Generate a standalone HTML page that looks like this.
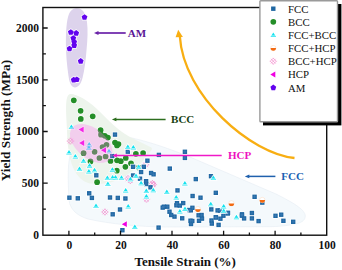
<!DOCTYPE html>
<html><head><meta charset="utf-8"><style>
html,body{margin:0;padding:0;background:#fff;width:342px;height:270px;overflow:hidden}
svg{display:block}
text{font-family:"Liberation Serif",serif}
</style></head><body>
<svg width="342" height="270" viewBox="0 0 342 270">
<rect width="342" height="270" fill="#fff"/>

<path d="M69,200 C68,180 67,160 72,150 C80,138 110,133 132,138 C150,142 170,149 190,157 L276,194 C292,202 304,209 305.2,215 C306,221 300,223.2 294,224.3 C285,226 278,226.6 270,226.7 L165,227 C140,226.8 110,224 88,219 C78,216 70,210 69,200Z" fill="#f4f9fc" stroke="#e6edf3" stroke-width="0.6"/>
<path d="M70.5,94 C64,94 66.5,115 67,130 C67.5,150 70,168 80,178 C88,186 100,185 112,182 C125,178 138,168 145,158 C149,152.5 154,149.5 151,147.3 C146,144.5 135,140 127.5,135.5 C120,131 112,124 102.6,114.4 C96,108 90,102.5 84,99 C78,95.5 74,94 70.5,94Z" fill="#edf4ec"/>
<path d="M77,8.3 C83,8.3 86,14 87,22 C88,30 87.5,40 86.7,48 C85.8,60 84.5,70 82.5,78 C81,84 78,87.5 75,87.5 C72,87.5 69.5,84 68.5,76 C67,66 66,55 65.9,45 C65.8,32 66.5,20 69,14 C71,9.5 74,8.3 77,8.3Z" fill="#ddd3ec"/>
<g fill="#fff" stroke="#fff" stroke-width="1.6" stroke-opacity="0.85"><circle cx="73.8" cy="100.3" r="2.85"/><circle cx="80.6" cy="110.8" r="2.85"/><circle cx="92.7" cy="116.3" r="2.85"/><circle cx="80.8" cy="118.9" r="2.85"/><circle cx="100.6" cy="130.2" r="2.85"/><circle cx="101.0" cy="134.7" r="2.85"/><circle cx="104.8" cy="135.8" r="2.85"/><circle cx="107.9" cy="137.6" r="2.85"/><circle cx="115.0" cy="142.5" r="2.85"/><circle cx="118.5" cy="144.0" r="2.85"/><circle cx="117.0" cy="145.5" r="2.85"/><circle cx="102.5" cy="147.0" r="2.85"/><circle cx="106.5" cy="144.8" r="2.85"/><circle cx="94.6" cy="151.8" r="2.85"/><circle cx="83.6" cy="153.2" r="2.85"/><circle cx="99.4" cy="158.0" r="2.85"/><circle cx="105.6" cy="156.5" r="2.85"/><circle cx="110.5" cy="161.0" r="2.85"/><circle cx="117.0" cy="160.3" r="2.85"/><circle cx="120.8" cy="161.2" r="2.85"/><circle cx="125.8" cy="158.0" r="2.85"/><circle cx="131.0" cy="163.3" r="2.85"/><circle cx="125.4" cy="166.8" r="2.85"/><circle cx="135.9" cy="153.8" r="2.85"/><circle cx="143.1" cy="153.0" r="2.85"/><circle cx="116.8" cy="170.7" r="2.85"/><circle cx="97.1" cy="182.2" r="2.85"/><circle cx="90.5" cy="161.4" r="2.85"/><circle cx="138.7" cy="167.6" r="2.85"/></g><g fill="#248e28" ><circle cx="73.8" cy="100.3" r="2.85"/><circle cx="80.6" cy="110.8" r="2.85"/><circle cx="92.7" cy="116.3" r="2.85"/><circle cx="80.8" cy="118.9" r="2.85"/><circle cx="100.6" cy="130.2" r="2.85"/><circle cx="101.0" cy="134.7" r="2.85"/><circle cx="104.8" cy="135.8" r="2.85"/><circle cx="107.9" cy="137.6" r="2.85"/><circle cx="115.0" cy="142.5" r="2.85"/><circle cx="118.5" cy="144.0" r="2.85"/><circle cx="117.0" cy="145.5" r="2.85"/><circle cx="102.5" cy="147.0" r="2.85"/><circle cx="106.5" cy="144.8" r="2.85"/><circle cx="94.6" cy="151.8" r="2.85"/><circle cx="83.6" cy="153.2" r="2.85"/><circle cx="99.4" cy="158.0" r="2.85"/><circle cx="105.6" cy="156.5" r="2.85"/><circle cx="110.5" cy="161.0" r="2.85"/><circle cx="117.0" cy="160.3" r="2.85"/><circle cx="120.8" cy="161.2" r="2.85"/><circle cx="125.8" cy="158.0" r="2.85"/><circle cx="131.0" cy="163.3" r="2.85"/><circle cx="125.4" cy="166.8" r="2.85"/><circle cx="135.9" cy="153.8" r="2.85"/><circle cx="143.1" cy="153.0" r="2.85"/><circle cx="116.8" cy="170.7" r="2.85"/><circle cx="97.1" cy="182.2" r="2.85"/><circle cx="90.5" cy="161.4" r="2.85"/><circle cx="138.7" cy="167.6" r="2.85"/></g>
<g stroke="#f27cc6" stroke-width="0.6" fill="none"><path d="M67.11,140.81L70.69,144.39M67.11,141.39L70.69,137.81M68.07,138.77L72.73,143.43M68.07,143.43L72.73,138.77M70.11,137.81L73.69,141.39M70.11,144.39L73.69,140.81"/><path d="M101.61,211.71L105.19,215.29M101.61,212.29L105.19,208.71M102.57,209.67L107.23,214.33M102.57,214.33L107.23,209.67M104.61,208.71L108.19,212.29M104.61,215.29L108.19,211.71"/><path d="M124.71,178.31L128.29,181.89M124.71,178.89L128.29,175.31M125.67,176.27L130.33,180.93M125.67,180.93L130.33,176.27M127.71,175.31L131.29,178.89M127.71,181.89L131.29,178.31"/><path d="M127.01,180.31L130.59,183.89M127.01,180.89L130.59,177.31M127.97,178.27L132.63,182.93M127.97,182.93L132.63,178.27M130.01,177.31L133.59,180.89M130.01,183.89L133.59,180.31"/><path d="M142.31,164.51L145.89,168.09M142.31,165.09L145.89,161.51M143.27,162.47L147.93,167.13M143.27,167.13L147.93,162.47M145.31,161.51L148.89,165.09M145.31,168.09L148.89,164.51"/><path d="M150.01,184.51L153.59,188.09M150.01,185.09L153.59,181.51M150.97,182.47L155.63,187.13M150.97,187.13L155.63,182.47M153.01,181.51L156.59,185.09M153.01,188.09L156.59,184.51"/><path d="M143.21,198.91L146.79,202.49M143.21,199.49L146.79,195.91M144.17,196.87L148.83,201.53M144.17,201.53L148.83,196.87M146.21,195.91L149.79,199.49M146.21,202.49L149.79,198.91"/><path d="M149.11,183.21L152.69,186.79M149.11,183.79L152.69,180.21M150.07,181.17L154.73,185.83M150.07,185.83L154.73,181.17M152.11,180.21L155.69,183.79M152.11,186.79L155.69,183.21"/></g>
<g fill="#fff" stroke="#fff" stroke-width="1.6" stroke-opacity="0.85"><rect x="112.8" y="132.4" width="4.4" height="4.4"/><rect x="110.0" y="153.8" width="4.4" height="4.4"/><rect x="125.6" y="149.5" width="4.4" height="4.4"/><rect x="156.7" y="152.7" width="4.4" height="4.4"/><rect x="182.7" y="149.6" width="4.4" height="4.4"/><rect x="182.7" y="155.7" width="4.4" height="4.4"/><rect x="145.2" y="158.5" width="4.4" height="4.4"/><rect x="167.6" y="166.4" width="4.4" height="4.4"/><rect x="141.6" y="164.6" width="4.4" height="4.4"/><rect x="130.9" y="164.6" width="4.4" height="4.4"/><rect x="138.9" y="169.8" width="4.4" height="4.4"/><rect x="130.9" y="173.3" width="4.4" height="4.4"/><rect x="137.8" y="176.5" width="4.4" height="4.4"/><rect x="148.9" y="170.8" width="4.4" height="4.4"/><rect x="151.4" y="172.1" width="4.4" height="4.4"/><rect x="143.9" y="179.0" width="4.4" height="4.4"/><rect x="143.9" y="181.8" width="4.4" height="4.4"/><rect x="148.3" y="185.1" width="4.4" height="4.4"/><rect x="94.1" y="173.1" width="4.4" height="4.4"/><rect x="87.0" y="191.1" width="4.4" height="4.4"/><rect x="89.7" y="195.7" width="4.4" height="4.4"/><rect x="67.2" y="195.5" width="4.4" height="4.4"/><rect x="75.6" y="196.1" width="4.4" height="4.4"/><rect x="107.8" y="195.3" width="4.4" height="4.4"/><rect x="115.6" y="195.7" width="4.4" height="4.4"/><rect x="117.8" y="207.3" width="4.4" height="4.4"/><rect x="110.5" y="212.1" width="4.4" height="4.4"/><rect x="120.2" y="228.0" width="4.4" height="4.4"/><rect x="123.2" y="196.3" width="4.4" height="4.4"/><rect x="160.5" y="205.4" width="4.4" height="4.4"/><rect x="156.4" y="225.4" width="4.4" height="4.4"/><rect x="193.6" y="176.9" width="4.4" height="4.4"/><rect x="175.3" y="188.2" width="4.4" height="4.4"/><rect x="190.4" y="193.8" width="4.4" height="4.4"/><rect x="198.3" y="195.5" width="4.4" height="4.4"/><rect x="174.2" y="203.1" width="4.4" height="4.4"/><rect x="177.6" y="203.4" width="4.4" height="4.4"/><rect x="181.0" y="200.9" width="4.4" height="4.4"/><rect x="174.8" y="201.0" width="4.4" height="4.4"/><rect x="161.7" y="204.5" width="4.4" height="4.4"/><rect x="165.1" y="204.5" width="4.4" height="4.4"/><rect x="167.3" y="209.5" width="4.4" height="4.4"/><rect x="169.0" y="212.8" width="4.4" height="4.4"/><rect x="172.3" y="214.4" width="4.4" height="4.4"/><rect x="180.0" y="216.1" width="4.4" height="4.4"/><rect x="186.9" y="207.8" width="4.4" height="4.4"/><rect x="190.2" y="205.6" width="4.4" height="4.4"/><rect x="188.6" y="208.1" width="4.4" height="4.4"/><rect x="188.3" y="218.5" width="4.4" height="4.4"/><rect x="190.1" y="218.8" width="4.4" height="4.4"/><rect x="188.8" y="221.8" width="4.4" height="4.4"/><rect x="196.4" y="213.1" width="4.4" height="4.4"/><rect x="199.4" y="212.8" width="4.4" height="4.4"/><rect x="196.8" y="218.6" width="4.4" height="4.4"/><rect x="199.8" y="216.4" width="4.4" height="4.4"/><rect x="213.6" y="190.6" width="4.4" height="4.4"/><rect x="208.8" y="174.0" width="4.4" height="4.4"/><rect x="209.1" y="207.2" width="4.4" height="4.4"/><rect x="217.8" y="208.4" width="4.4" height="4.4"/><rect x="213.6" y="215.1" width="4.4" height="4.4"/><rect x="215.4" y="208.2" width="4.4" height="4.4"/><rect x="225.6" y="211.3" width="4.4" height="4.4"/><rect x="221.2" y="213.5" width="4.4" height="4.4"/><rect x="213.8" y="215.2" width="4.4" height="4.4"/><rect x="218.2" y="216.5" width="4.4" height="4.4"/><rect x="209.3" y="218.3" width="4.4" height="4.4"/><rect x="209.6" y="221.4" width="4.4" height="4.4"/><rect x="216.4" y="222.7" width="4.4" height="4.4"/><rect x="239.7" y="213.5" width="4.4" height="4.4"/><rect x="241.9" y="216.2" width="4.4" height="4.4"/><rect x="252.4" y="194.6" width="4.4" height="4.4"/><rect x="260.1" y="200.4" width="4.4" height="4.4"/><rect x="249.7" y="210.8" width="4.4" height="4.4"/><rect x="249.7" y="216.2" width="4.4" height="4.4"/><rect x="256.4" y="218.9" width="4.4" height="4.4"/><rect x="273.3" y="213.6" width="4.4" height="4.4"/><rect x="279.0" y="212.5" width="4.4" height="4.4"/><rect x="281.2" y="218.6" width="4.4" height="4.4"/><rect x="291.0" y="219.6" width="4.4" height="4.4"/><rect x="225.8" y="210.6" width="4.4" height="4.4"/><rect x="239.8" y="212.1" width="4.4" height="4.4"/></g><g fill="#1f67a2" ><rect x="112.8" y="132.4" width="4.4" height="4.4"/><rect x="110.0" y="153.8" width="4.4" height="4.4"/><rect x="125.6" y="149.5" width="4.4" height="4.4"/><rect x="156.7" y="152.7" width="4.4" height="4.4"/><rect x="182.7" y="149.6" width="4.4" height="4.4"/><rect x="182.7" y="155.7" width="4.4" height="4.4"/><rect x="145.2" y="158.5" width="4.4" height="4.4"/><rect x="167.6" y="166.4" width="4.4" height="4.4"/><rect x="141.6" y="164.6" width="4.4" height="4.4"/><rect x="130.9" y="164.6" width="4.4" height="4.4"/><rect x="138.9" y="169.8" width="4.4" height="4.4"/><rect x="130.9" y="173.3" width="4.4" height="4.4"/><rect x="137.8" y="176.5" width="4.4" height="4.4"/><rect x="148.9" y="170.8" width="4.4" height="4.4"/><rect x="151.4" y="172.1" width="4.4" height="4.4"/><rect x="143.9" y="179.0" width="4.4" height="4.4"/><rect x="143.9" y="181.8" width="4.4" height="4.4"/><rect x="148.3" y="185.1" width="4.4" height="4.4"/><rect x="94.1" y="173.1" width="4.4" height="4.4"/><rect x="87.0" y="191.1" width="4.4" height="4.4"/><rect x="89.7" y="195.7" width="4.4" height="4.4"/><rect x="67.2" y="195.5" width="4.4" height="4.4"/><rect x="75.6" y="196.1" width="4.4" height="4.4"/><rect x="107.8" y="195.3" width="4.4" height="4.4"/><rect x="115.6" y="195.7" width="4.4" height="4.4"/><rect x="117.8" y="207.3" width="4.4" height="4.4"/><rect x="110.5" y="212.1" width="4.4" height="4.4"/><rect x="120.2" y="228.0" width="4.4" height="4.4"/><rect x="123.2" y="196.3" width="4.4" height="4.4"/><rect x="160.5" y="205.4" width="4.4" height="4.4"/><rect x="156.4" y="225.4" width="4.4" height="4.4"/><rect x="193.6" y="176.9" width="4.4" height="4.4"/><rect x="175.3" y="188.2" width="4.4" height="4.4"/><rect x="190.4" y="193.8" width="4.4" height="4.4"/><rect x="198.3" y="195.5" width="4.4" height="4.4"/><rect x="174.2" y="203.1" width="4.4" height="4.4"/><rect x="177.6" y="203.4" width="4.4" height="4.4"/><rect x="181.0" y="200.9" width="4.4" height="4.4"/><rect x="174.8" y="201.0" width="4.4" height="4.4"/><rect x="161.7" y="204.5" width="4.4" height="4.4"/><rect x="165.1" y="204.5" width="4.4" height="4.4"/><rect x="167.3" y="209.5" width="4.4" height="4.4"/><rect x="169.0" y="212.8" width="4.4" height="4.4"/><rect x="172.3" y="214.4" width="4.4" height="4.4"/><rect x="180.0" y="216.1" width="4.4" height="4.4"/><rect x="186.9" y="207.8" width="4.4" height="4.4"/><rect x="190.2" y="205.6" width="4.4" height="4.4"/><rect x="188.6" y="208.1" width="4.4" height="4.4"/><rect x="188.3" y="218.5" width="4.4" height="4.4"/><rect x="190.1" y="218.8" width="4.4" height="4.4"/><rect x="188.8" y="221.8" width="4.4" height="4.4"/><rect x="196.4" y="213.1" width="4.4" height="4.4"/><rect x="199.4" y="212.8" width="4.4" height="4.4"/><rect x="196.8" y="218.6" width="4.4" height="4.4"/><rect x="199.8" y="216.4" width="4.4" height="4.4"/><rect x="213.6" y="190.6" width="4.4" height="4.4"/><rect x="208.8" y="174.0" width="4.4" height="4.4"/><rect x="209.1" y="207.2" width="4.4" height="4.4"/><rect x="217.8" y="208.4" width="4.4" height="4.4"/><rect x="213.6" y="215.1" width="4.4" height="4.4"/><rect x="215.4" y="208.2" width="4.4" height="4.4"/><rect x="225.6" y="211.3" width="4.4" height="4.4"/><rect x="221.2" y="213.5" width="4.4" height="4.4"/><rect x="213.8" y="215.2" width="4.4" height="4.4"/><rect x="218.2" y="216.5" width="4.4" height="4.4"/><rect x="209.3" y="218.3" width="4.4" height="4.4"/><rect x="209.6" y="221.4" width="4.4" height="4.4"/><rect x="216.4" y="222.7" width="4.4" height="4.4"/><rect x="239.7" y="213.5" width="4.4" height="4.4"/><rect x="241.9" y="216.2" width="4.4" height="4.4"/><rect x="252.4" y="194.6" width="4.4" height="4.4"/><rect x="260.1" y="200.4" width="4.4" height="4.4"/><rect x="249.7" y="210.8" width="4.4" height="4.4"/><rect x="249.7" y="216.2" width="4.4" height="4.4"/><rect x="256.4" y="218.9" width="4.4" height="4.4"/><rect x="273.3" y="213.6" width="4.4" height="4.4"/><rect x="279.0" y="212.5" width="4.4" height="4.4"/><rect x="281.2" y="218.6" width="4.4" height="4.4"/><rect x="291.0" y="219.6" width="4.4" height="4.4"/><rect x="225.8" y="210.6" width="4.4" height="4.4"/><rect x="239.8" y="212.1" width="4.4" height="4.4"/></g>
<path d="M113.3,134.6H116.7M115.0,132.9V136.3M110.5,156.0H113.9M112.2,154.3V157.7M126.1,151.7H129.5M127.8,150.0V153.4M157.2,154.9H160.6M158.9,153.2V156.6M183.2,151.8H186.6M184.9,150.1V153.5M183.2,157.9H186.6M184.9,156.2V159.6M145.7,160.7H149.1M147.4,159.0V162.4M168.1,168.6H171.5M169.8,166.9V170.3M142.1,166.8H145.5M143.8,165.1V168.5M131.4,166.8H134.8M133.1,165.1V168.5M139.4,172.0H142.8M141.1,170.3V173.7M131.4,175.5H134.8M133.1,173.8V177.2M138.3,178.7H141.7M140.0,177.0V180.4M149.4,173.0H152.8M151.1,171.3V174.7M151.9,174.3H155.3M153.6,172.6V176.0M144.4,181.2H147.8M146.1,179.5V182.9M144.4,184.0H147.8M146.1,182.3V185.7M148.8,187.3H152.2M150.5,185.6V189.0M94.6,175.3H98.0M96.3,173.6V177.0M87.5,193.3H90.9M89.2,191.6V195.0M90.2,197.9H93.6M91.9,196.2V199.6M67.7,197.7H71.1M69.4,196.0V199.4M76.1,198.3H79.5M77.8,196.6V200.0M108.3,197.5H111.7M110.0,195.8V199.2M116.1,197.9H119.5M117.8,196.2V199.6M118.3,209.5H121.7M120.0,207.8V211.2M111.0,214.3H114.4M112.7,212.6V216.0M120.7,230.2H124.1M122.4,228.5V231.9M123.7,198.5H127.1M125.4,196.8V200.2M161.0,207.6H164.4M162.7,205.9V209.3M156.9,227.6H160.3M158.6,225.9V229.3M194.1,179.1H197.5M195.8,177.4V180.8M175.8,190.4H179.2M177.5,188.7V192.1M190.9,196.0H194.3M192.6,194.3V197.7M198.8,197.7H202.2M200.5,196.0V199.4M174.7,205.3H178.1M176.4,203.6V207.0M178.1,205.6H181.5M179.8,203.9V207.3M181.5,203.1H184.9M183.2,201.4V204.8M175.3,203.2H178.7M177.0,201.5V204.9M162.2,206.7H165.6M163.9,205.0V208.4M165.6,206.7H169.0M167.3,205.0V208.4M167.8,211.7H171.2M169.5,210.0V213.4M169.5,215.0H172.9M171.2,213.3V216.7M172.8,216.6H176.2M174.5,214.9V218.3M180.5,218.3H183.9M182.2,216.6V220.0M187.4,210.0H190.8M189.1,208.3V211.7M190.7,207.8H194.1M192.4,206.1V209.5M189.1,210.3H192.5M190.8,208.6V212.0M188.8,220.7H192.2M190.5,219.0V222.4M190.6,221.0H194.0M192.3,219.3V222.7M189.3,224.0H192.7M191.0,222.3V225.7M196.9,215.3H200.3M198.6,213.6V217.0M199.9,215.0H203.3M201.6,213.3V216.7M197.3,220.8H200.7M199.0,219.1V222.5M200.3,218.6H203.7M202.0,216.9V220.3M214.1,192.8H217.5M215.8,191.1V194.5M209.3,176.2H212.7M211.0,174.5V177.9M209.6,209.4H213.0M211.3,207.7V211.1M218.3,210.6H221.7M220.0,208.9V212.3M214.1,217.3H217.5M215.8,215.6V219.0M215.9,210.4H219.3M217.6,208.7V212.1M226.1,213.5H229.5M227.8,211.8V215.2M221.7,215.7H225.1M223.4,214.0V217.4M214.3,217.4H217.7M216.0,215.7V219.1M218.7,218.7H222.1M220.4,217.0V220.4M209.8,220.5H213.2M211.5,218.8V222.2M210.1,223.6H213.5M211.8,221.9V225.3M216.9,224.9H220.3M218.6,223.2V226.6M240.2,215.7H243.6M241.9,214.0V217.4M242.4,218.4H245.8M244.1,216.7V220.1M252.9,196.8H256.3M254.6,195.1V198.5M260.6,202.6H264.0M262.3,200.9V204.3M250.2,213.0H253.6M251.9,211.3V214.7M250.2,218.4H253.6M251.9,216.7V220.1M256.9,221.1H260.3M258.6,219.4V222.8M273.8,215.8H277.2M275.5,214.1V217.5M279.5,214.7H282.9M281.2,213.0V216.4M281.7,220.8H285.1M283.4,219.1V222.5M291.5,221.8H294.9M293.2,220.1V223.5M226.3,212.8H229.7M228.0,211.1V214.5M240.3,214.3H243.7M242.0,212.6V216.0" stroke="#5d95c9" stroke-width="0.55" stroke-opacity="0.55"/>
<g fill="#fff" stroke="#fff" stroke-width="1.6" stroke-opacity="0.85"><path d="M71.4,124.50L74.20,129.00L68.60,129.00Z"/><path d="M89.2,142.00L92.00,146.50L86.40,146.50Z"/><path d="M88.9,145.30L91.70,149.80L86.10,149.80Z"/><path d="M69.0,150.10L71.80,154.60L66.20,154.60Z"/><path d="M75.3,154.00L78.10,158.50L72.50,158.50Z"/><path d="M79.5,166.60L82.30,171.10L76.70,171.10Z"/><path d="M83.5,158.50L86.30,163.00L80.70,163.00Z"/><path d="M89.6,163.30L92.40,167.80L86.80,167.80Z"/><path d="M88.9,169.10L91.70,173.60L86.10,173.60Z"/><path d="M94.5,167.80L97.30,172.30L91.70,172.30Z"/><path d="M109.0,148.80L111.80,153.30L106.20,153.30Z"/><path d="M112.4,167.20L115.20,171.70L109.60,171.70Z"/><path d="M107.4,175.60L110.20,180.10L104.60,180.10Z"/><path d="M112.6,175.10L115.40,179.60L109.80,179.60Z"/><path d="M115.5,175.10L118.30,179.60L112.70,179.60Z"/><path d="M121.5,175.30L124.30,179.80L118.70,179.80Z"/><path d="M107.9,181.50L110.70,186.00L105.10,186.00Z"/><path d="M96.0,203.60L98.80,208.10L93.20,208.10Z"/><path d="M127.8,144.50L130.60,149.00L125.00,149.00Z"/><path d="M133.3,145.10L136.10,149.60L130.50,149.60Z"/><path d="M138.7,164.50L141.50,169.00L135.90,169.00Z"/><path d="M136.0,173.50L138.80,178.00L133.20,178.00Z"/><path d="M130.4,176.80L133.20,181.30L127.60,181.30Z"/><path d="M141.1,180.80L143.90,185.30L138.30,185.30Z"/><path d="M146.3,188.60L149.10,193.10L143.50,193.10Z"/><path d="M153.3,187.80L156.10,192.30L150.50,192.30Z"/><path d="M146.4,194.10L149.20,198.60L143.60,198.60Z"/><path d="M125.7,187.90L128.50,192.40L122.90,192.40Z"/><path d="M128.2,204.10L131.00,208.60L125.40,208.60Z"/><path d="M134.8,224.50L137.60,229.00L132.00,229.00Z"/><path d="M166.8,189.50L169.60,194.00L164.00,194.00Z"/><path d="M184.9,181.10L187.70,185.60L182.10,185.60Z"/><path d="M176.2,195.10L179.00,199.60L173.40,199.60Z"/><path d="M179.9,208.90L182.70,213.40L177.10,213.40Z"/><path d="M185.0,206.40L187.80,210.90L182.20,210.90Z"/><path d="M213.4,175.50L216.20,180.00L210.60,180.00Z"/><path d="M210.8,201.80L213.60,206.30L208.00,206.30Z"/><path d="M223.7,204.10L226.50,208.60L220.90,208.60Z"/><path d="M223.7,208.50L226.50,213.00L220.90,213.00Z"/><path d="M236.4,214.70L239.20,219.20L233.60,219.20Z"/></g><g fill="#12e2ef" ><path d="M71.4,124.50L74.20,129.00L68.60,129.00Z"/><path d="M89.2,142.00L92.00,146.50L86.40,146.50Z"/><path d="M88.9,145.30L91.70,149.80L86.10,149.80Z"/><path d="M69.0,150.10L71.80,154.60L66.20,154.60Z"/><path d="M75.3,154.00L78.10,158.50L72.50,158.50Z"/><path d="M79.5,166.60L82.30,171.10L76.70,171.10Z"/><path d="M83.5,158.50L86.30,163.00L80.70,163.00Z"/><path d="M89.6,163.30L92.40,167.80L86.80,167.80Z"/><path d="M88.9,169.10L91.70,173.60L86.10,173.60Z"/><path d="M94.5,167.80L97.30,172.30L91.70,172.30Z"/><path d="M109.0,148.80L111.80,153.30L106.20,153.30Z"/><path d="M112.4,167.20L115.20,171.70L109.60,171.70Z"/><path d="M107.4,175.60L110.20,180.10L104.60,180.10Z"/><path d="M112.6,175.10L115.40,179.60L109.80,179.60Z"/><path d="M115.5,175.10L118.30,179.60L112.70,179.60Z"/><path d="M121.5,175.30L124.30,179.80L118.70,179.80Z"/><path d="M107.9,181.50L110.70,186.00L105.10,186.00Z"/><path d="M96.0,203.60L98.80,208.10L93.20,208.10Z"/><path d="M127.8,144.50L130.60,149.00L125.00,149.00Z"/><path d="M133.3,145.10L136.10,149.60L130.50,149.60Z"/><path d="M138.7,164.50L141.50,169.00L135.90,169.00Z"/><path d="M136.0,173.50L138.80,178.00L133.20,178.00Z"/><path d="M130.4,176.80L133.20,181.30L127.60,181.30Z"/><path d="M141.1,180.80L143.90,185.30L138.30,185.30Z"/><path d="M146.3,188.60L149.10,193.10L143.50,193.10Z"/><path d="M153.3,187.80L156.10,192.30L150.50,192.30Z"/><path d="M146.4,194.10L149.20,198.60L143.60,198.60Z"/><path d="M125.7,187.90L128.50,192.40L122.90,192.40Z"/><path d="M128.2,204.10L131.00,208.60L125.40,208.60Z"/><path d="M134.8,224.50L137.60,229.00L132.00,229.00Z"/><path d="M166.8,189.50L169.60,194.00L164.00,194.00Z"/><path d="M184.9,181.10L187.70,185.60L182.10,185.60Z"/><path d="M176.2,195.10L179.00,199.60L173.40,199.60Z"/><path d="M179.9,208.90L182.70,213.40L177.10,213.40Z"/><path d="M185.0,206.40L187.80,210.90L182.20,210.90Z"/><path d="M213.4,175.50L216.20,180.00L210.60,180.00Z"/><path d="M210.8,201.80L213.60,206.30L208.00,206.30Z"/><path d="M223.7,204.10L226.50,208.60L220.90,208.60Z"/><path d="M223.7,208.50L226.50,213.00L220.90,213.00Z"/><path d="M236.4,214.70L239.20,219.20L233.60,219.20Z"/></g>
<g stroke="#fff" stroke-width="0.75" stroke-opacity="0.9"><path d="M69.20,128.05H73.60"/><path d="M87.00,145.55H91.40"/><path d="M86.70,148.85H91.10"/><path d="M66.80,153.65H71.20"/><path d="M73.10,157.55H77.50"/><path d="M77.30,170.15H81.70"/><path d="M81.30,162.05H85.70"/><path d="M87.40,166.85H91.80"/><path d="M86.70,172.65H91.10"/><path d="M92.30,171.35H96.70"/><path d="M106.80,152.35H111.20"/><path d="M110.20,170.75H114.60"/><path d="M105.20,179.15H109.60"/><path d="M110.40,178.65H114.80"/><path d="M113.30,178.65H117.70"/><path d="M119.30,178.85H123.70"/><path d="M105.70,185.05H110.10"/><path d="M93.80,207.15H98.20"/><path d="M125.60,148.05H130.00"/><path d="M131.10,148.65H135.50"/><path d="M136.50,168.05H140.90"/><path d="M133.80,177.05H138.20"/><path d="M128.20,180.35H132.60"/><path d="M138.90,184.35H143.30"/><path d="M144.10,192.15H148.50"/><path d="M151.10,191.35H155.50"/><path d="M144.20,197.65H148.60"/><path d="M123.50,191.45H127.90"/><path d="M126.00,207.65H130.40"/><path d="M132.60,228.05H137.00"/><path d="M164.60,193.05H169.00"/><path d="M182.70,184.65H187.10"/><path d="M174.00,198.65H178.40"/><path d="M177.70,212.45H182.10"/><path d="M182.80,209.95H187.20"/><path d="M211.20,179.05H215.60"/><path d="M208.60,205.35H213.00"/><path d="M221.50,207.65H225.90"/><path d="M221.50,212.05H225.90"/><path d="M234.20,218.25H238.60"/></g>
<g fill="#fff" stroke="#fff" stroke-width="1.6" stroke-opacity="0.85"><path d="M78.6,129.6L83.6,126.7L83.6,132.5Z"/><path d="M79.2,143.0L84.2,140.1L84.2,145.9Z"/><path d="M101.0,150.2L106.0,147.3L106.0,153.1Z"/><path d="M121.8,224.2L126.8,221.3L126.8,227.1Z"/></g><g fill="#f000e2" ><path d="M78.6,129.6L83.6,126.7L83.6,132.5Z"/><path d="M79.2,143.0L84.2,140.1L84.2,145.9Z"/><path d="M101.0,150.2L106.0,147.3L106.0,153.1Z"/><path d="M121.8,224.2L126.8,221.3L126.8,227.1Z"/></g>
<circle cx="231.4" cy="203.4" r="2.7" fill="#fff" stroke="#fcd9bc" stroke-width="0.5"/><path d="M228.7,203.4A2.7,2.7 0 0 0 234.1,203.4Z" fill="#f26a12"/><circle cx="262.3" cy="200.0" r="2.7" fill="#fff" stroke="#fcd9bc" stroke-width="0.5"/><path d="M259.6,200.0A2.7,2.7 0 0 0 265.0,200.0Z" fill="#f26a12"/><circle cx="197.9" cy="209.2" r="2.7" fill="#fff" stroke="#fcd9bc" stroke-width="0.5"/><path d="M195.2,209.2A2.7,2.7 0 0 0 200.6,209.2Z" fill="#f26a12"/>
<g fill="#fff" stroke="#fff" stroke-width="1.6" stroke-opacity="0.85"><polygon points="84.5,14.2 87.4,16.3 86.3,19.8 82.7,19.8 81.6,16.3"/><polygon points="70.8,29.2 73.7,31.3 72.6,34.8 69.0,34.8 67.9,31.3"/><polygon points="76.2,30.1 79.1,32.2 78.0,35.7 74.4,35.7 73.3,32.2"/><polygon points="73.3,35.2 76.2,37.3 75.1,40.8 71.5,40.8 70.4,37.3"/><polygon points="74.2,38.9 77.1,41.0 76.0,44.5 72.4,44.5 71.3,41.0"/><polygon points="74.2,42.4 77.1,44.5 76.0,48.0 72.4,48.0 71.3,44.5"/><polygon points="69.5,45.7 72.4,47.8 71.3,51.3 67.7,51.3 66.6,47.8"/><polygon points="80.7,58.1 83.6,60.2 82.5,63.7 78.9,63.7 77.8,60.2"/><polygon points="73.7,76.8 76.6,78.9 75.5,82.4 71.9,82.4 70.8,78.9"/><polygon points="76.8,76.5 79.7,78.6 78.6,82.1 75.0,82.1 73.9,78.6"/></g><g fill="#6203ee" ><polygon points="84.5,14.2 87.4,16.3 86.3,19.8 82.7,19.8 81.6,16.3"/><polygon points="70.8,29.2 73.7,31.3 72.6,34.8 69.0,34.8 67.9,31.3"/><polygon points="76.2,30.1 79.1,32.2 78.0,35.7 74.4,35.7 73.3,32.2"/><polygon points="73.3,35.2 76.2,37.3 75.1,40.8 71.5,40.8 70.4,37.3"/><polygon points="74.2,38.9 77.1,41.0 76.0,44.5 72.4,44.5 71.3,41.0"/><polygon points="74.2,42.4 77.1,44.5 76.0,48.0 72.4,48.0 71.3,44.5"/><polygon points="69.5,45.7 72.4,47.8 71.3,51.3 67.7,51.3 66.6,47.8"/><polygon points="80.7,58.1 83.6,60.2 82.5,63.7 78.9,63.7 77.8,60.2"/><polygon points="73.7,76.8 76.6,78.9 75.5,82.4 71.9,82.4 70.8,78.9"/><polygon points="76.8,76.5 79.7,78.6 78.6,82.1 75.0,82.1 73.9,78.6"/></g>
<ellipse cx="91.2" cy="143.4" rx="24.7" ry="14.9" transform="rotate(39.4 91.2 143.4)" fill="rgb(255,118,240)" fill-opacity="0.3"/>
<rect x="42.9" y="7.5" width="283.8" height="227.7" fill="none" stroke="#111" stroke-width="1.4"/>
<path d="M68.9,235.2V230.7M94.7,235.2V232.39999999999998M120.5,235.2V230.7M146.2,235.2V232.39999999999998M172.0,235.2V230.7M197.8,235.2V232.39999999999998M223.6,235.2V230.7M249.4,235.2V232.39999999999998M275.1,235.2V230.7M300.9,235.2V232.39999999999998M42.9,209.1H45.9M42.9,183.2H47.699999999999996M42.9,157.4H45.9M42.9,131.5H47.699999999999996M42.9,105.6H45.9M42.9,79.8H47.699999999999996M42.9,53.9H45.9M42.9,28.0H47.699999999999996" stroke="#111" stroke-width="1.3" fill="none"/>
<g font-size="11.5" font-weight="bold" fill="#111"><text x="69.4" y="248.9" text-anchor="middle">0</text><text x="121.0" y="248.9" text-anchor="middle">20</text><text x="172.5" y="248.9" text-anchor="middle">40</text><text x="224.1" y="248.9" text-anchor="middle">60</text><text x="275.6" y="248.9" text-anchor="middle">80</text><text x="327.2" y="248.9" text-anchor="middle">100</text><text x="39.0" y="238.7" text-anchor="end">0</text><text x="39.0" y="186.9" text-anchor="end">500</text><text x="39.0" y="135.2" text-anchor="end">1000</text><text x="39.0" y="83.5" text-anchor="end">1500</text><text x="39.0" y="31.7" text-anchor="end">2000</text></g>
<text x="134.6" y="266.4" font-size="13" font-weight="bold" fill="#111">Tensile Strain (%)</text>
<text transform="translate(10.4,181.3) rotate(-90)" font-size="13.25" font-weight="bold" fill="#111">Yield Strength (MPa)</text>
<path d="M97.0,33H125.7" stroke="#6a22a8" stroke-width="1.7"/><path d="M94,33L98.5,31.1L98.5,34.9Z" fill="#6a22a8"/>
<text x="127.8" y="37.1" font-size="11" font-weight="bold" fill="#5b1596">AM</text>
<path d="M114.9,119.4H165.6" stroke="#2c6e1e" stroke-width="1.5"/><path d="M111.9,119.4L116.4,117.5L116.4,121.30000000000001Z" fill="#2c6e1e"/>
<text x="171.1" y="122.6" font-size="11" font-weight="bold" fill="#173f12">BCC</text>
<path d="M115.3,155.5H221.7" stroke="#f018c8" stroke-width="1.5"/><path d="M112.3,155.5L116.8,153.6L116.8,157.4Z" fill="#f018c8"/>
<text x="227.9" y="158.9" font-size="11" font-weight="bold" fill="#ee10c0">HCP</text>
<path d="M247.8,176.4H275.4" stroke="#1f60ad" stroke-width="1.5"/><path d="M244.8,176.4L249.3,174.5L249.3,178.3Z" fill="#1f60ad"/>
<text x="281.3" y="180.4" font-size="11" font-weight="bold" fill="#1a5fb4">FCC</text>
<path d="M294.5,158 C251.6,154 183.5,96.4 179.8,36" stroke="#f8ae12" stroke-width="2.3" fill="none"/>
<path d="M178.2,29.8 L182.9,37 L175.6,37.2Z" fill="#f8ae12"/>
<rect x="263" y="4" width="78.4" height="121.4" fill="#000"/>
<rect x="259.9" y="0.8" width="77.6" height="121" rx="0.8" fill="#fff" stroke="#9a9a9a" stroke-width="1.4"/>
<g fill="#fff" stroke="#fff" stroke-width="1.6" stroke-opacity="0.85"><rect x="271.1" y="6.5" width="4.4" height="4.4"/></g><g fill="#1f67a2" ><rect x="271.1" y="6.5" width="4.4" height="4.4"/></g>
<g fill="#fff" stroke="#fff" stroke-width="1.6" stroke-opacity="0.85"><circle cx="273.3" cy="21.8" r="2.85"/></g><g fill="#248e28" ><circle cx="273.3" cy="21.8" r="2.85"/></g>
<g fill="#fff" stroke="#fff" stroke-width="1.6" stroke-opacity="0.85"><path d="M273.3,32.40L276.10,36.90L270.50,36.90Z"/></g><g fill="#12e2ef" ><path d="M273.3,32.40L276.10,36.90L270.50,36.90Z"/></g>
<g stroke="#fff" stroke-width="0.75" stroke-opacity="0.9"><path d="M271.10,35.95H275.50"/></g>
<circle cx="273.3" cy="48.1" r="2.7" fill="#fff" stroke="#fcd9bc" stroke-width="0.5"/><path d="M270.6,48.1A2.7,2.7 0 0 0 276.0,48.1Z" fill="#f26a12"/>
<g stroke="#f27cc6" stroke-width="0.6" fill="none"><path d="M270.01,60.91L273.59,64.49M270.01,61.49L273.59,57.91M270.97,58.87L275.63,63.53M270.97,63.53L275.63,58.87M273.01,57.91L276.59,61.49M273.01,64.49L276.59,60.91"/></g>
<g fill="#fff" stroke="#fff" stroke-width="1.6" stroke-opacity="0.85"><path d="M270.3,74.5L275.3,71.6L275.3,77.4Z"/></g><g fill="#f000e2" ><path d="M270.3,74.5L275.3,71.6L275.3,77.4Z"/></g>
<g fill="#fff" stroke="#fff" stroke-width="1.6" stroke-opacity="0.85"><polygon points="273.3,84.6 276.2,86.7 275.1,90.2 271.5,90.2 270.4,86.7"/></g><g fill="#6203ee" ><polygon points="273.3,84.6 276.2,86.7 275.1,90.2 271.5,90.2 270.4,86.7"/></g>
<g font-size="10.8" fill="#111"><text x="288.0" y="12.5">FCC</text><text x="288.0" y="25.6">BCC</text><text x="288.0" y="38.7">FCC+BCC</text><text x="288.0" y="51.9">FCC+HCP</text><text x="288.0" y="65.0">BCC+HCP</text><text x="288.0" y="78.3">HCP</text><text x="288.0" y="91.5">AM</text></g>
</svg></body></html>
